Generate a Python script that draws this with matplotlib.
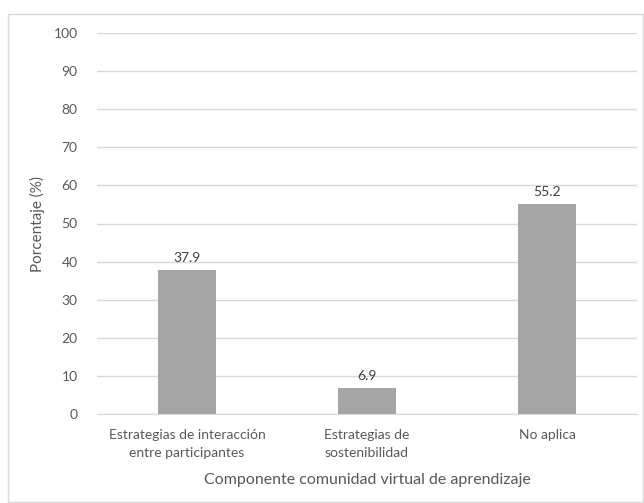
import matplotlib.pyplot as plt
from matplotlib.patches import Rectangle

categories = ["Estrategias de interacción\nentre participantes",
              "Estrategias de\nsostenibilidad",
              "No aplica"]
values = [37.9, 6.9, 55.2]

plt.rcParams['font.family'] = ['Lato', 'DejaVu Sans']
txt = "#595959"

fig = plt.figure(figsize=(6.44, 5.03), dpi=100)
fig.patches.append(Rectangle((8 / 644, 1 / 503), 635 / 644, 488 / 503,
                             transform=fig.transFigure, fill=False,
                             edgecolor="#D9D9D9", lw=1))
ax = fig.add_axes([97 / 644, 1 - 414 / 503, 540 / 644, 381 / 503])

x = range(len(values))
ax.bar(x, values, width=0.317, color="#A5A5A5", zorder=3)
for i, v in zip(x, values):
    ax.text(i, v + 1.5, f"{v:.1f}", ha="center", va="bottom", fontsize=10, color="#404040")

ax.set_xlim(-0.5, 2.5)
ax.set_ylim(0, 100)
ax.set_yticks(range(0, 101, 10))
ax.set_xticks(list(x))
ax.set_xticklabels(categories, fontsize=10, color=txt, linespacing=1.55)
ax.tick_params(axis="y", labelsize=10, colors=txt, length=0, pad=14)
ax.tick_params(axis="x", length=0, pad=11)
ax.grid(axis="y", color="#D9D9D9", lw=1, zorder=0)
for s in ["top", "right", "left"]:
    ax.spines[s].set_visible(False)
ax.spines["bottom"].set_color("#D9D9D9")
ax.set_ylabel("Porcentaje (%)", fontsize=11, color=txt, labelpad=6)
ax.set_xlabel("Componente comunidad virtual de aprendizaje", fontsize=11.5, color=txt, labelpad=10)

fig.savefig("out.png", dpi=100)
